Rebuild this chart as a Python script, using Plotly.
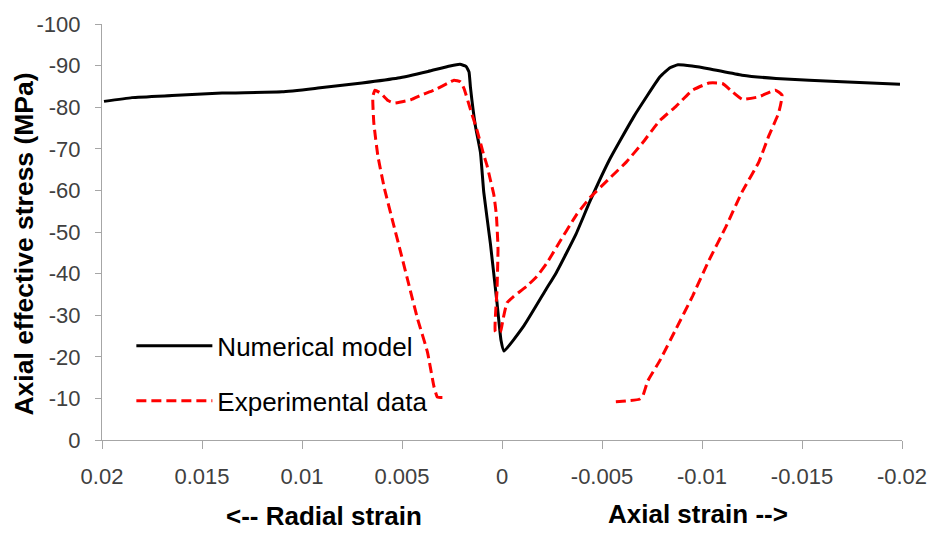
import plotly.graph_objects as go

# Numerical model: strain (radial side positive, axial side negative) vs axial effective stress
model_strain = [0.0199, 0.0185, 0.0165, 0.0140, 0.0110, 0.0092, 0.0070, 0.0052, 0.0037,
                0.0026, 0.0021, 0.0018, 0.00165, 0.00158, 0.00133, 0.00108, 0.00091,
                0.00058, 0.00025, 0.00005, -0.0001, -0.0011, -0.0022, -0.0027, -0.0037,
                -0.0044, -0.0054, -0.0066, -0.0079, -0.0084, -0.0088, -0.0095, -0.0104,
                -0.0120, -0.0137, -0.0170, -0.0199]
model_stress = [-81.4, -82.3, -82.8, -83.4, -83.7, -84.6, -85.8, -87.0, -88.6,
                -89.9, -90.3, -89.8, -88.5, -84.9, -75.5, -69.2, -59.5,
                -47.2, -33.0, -24.0, -21.4, -27.5, -36.2, -40.1, -49.5,
                -57.4, -67.6, -77.8, -87.3, -89.5, -90.2, -89.9, -89.2,
                -87.7, -86.9, -86.1, -85.5]

# Experimental data
exp_strain = [0.00298, 0.00323, 0.00340, 0.00373, 0.00422, 0.00464, 0.00505, 0.00547,
              0.00588, 0.00621, 0.00641, 0.00646, 0.00635, 0.00605, 0.00570, 0.00538,
              0.00456, 0.00400, 0.00340, 0.00257, 0.00240, 0.00207, 0.00190, 0.00158,
              0.00124, 0.00091, 0.00075, 0.00058, 0.00041, 0.00028, 0.00020, 0.00025,
              0.00033, 0.00008, -0.00005, -0.00025, -0.00058, -0.00124, -0.00174,
              -0.00224, -0.00273, -0.00373, -0.00439, -0.00538, -0.00621, -0.00704,
              -0.00787, -0.00870, -0.00953, -0.01035, -0.01102, -0.01152, -0.01201,
              -0.01284, -0.01367, -0.01400, -0.01383, -0.01334, -0.01284, -0.01201,
              -0.01118, -0.01035, -0.00953, -0.00870, -0.00787, -0.00729, -0.00704,
              -0.00687, -0.00621, -0.00563]
exp_stress = [-10.2, -10.3, -12.8, -21.2, -29.1, -37.0, -44.8, -52.7,
              -60.5, -68.4, -76.3, -82.5, -84.1, -83.3, -81.6, -81.0,
              -81.8, -83.0, -84.1, -86.1, -86.5, -86.1, -84.5, -79.5,
              -74.3, -68.5, -66.0, -62.5, -59.0, -54.0, -46.0, -36.0,
              -26.0, -26.0, -29.0, -33.0, -34.5, -37.0, -39.3,
              -42.5, -46.4, -54.2, -58.2, -62.9, -66.8, -71.5,
              -76.7, -80.2, -84.1, -85.8, -85.7, -83.7, -81.9,
              -82.5, -84.1, -82.9, -78.6, -73.1, -66.8, -59.7,
              -51.1, -43.2, -34.6, -26.7, -18.9, -14.2, -10.6,
              -9.8, -9.4, -9.2]

x_ticks = [0.02, 0.015, 0.01, 0.005, 0, -0.005, -0.01, -0.015, -0.02]
x_tick_text = ["0.02", "0.015", "0.01", "0.005", "0", "-0.005", "-0.01", "-0.015", "-0.02"]
y_ticks = [0, -10, -20, -30, -40, -50, -60, -70, -80, -90, -100]
y_tick_text = ["0", "-10", "-20", "-30", "-40", "-50", "-60", "-70", "-80", "-90", "-100"]

FONT = "Liberation Sans, Arial, sans-serif"

fig = go.Figure()
fig.add_trace(go.Scatter(
    x=model_strain, y=model_stress, mode="lines", name="Numerical model",
    legendgroup="a",
    line=dict(color="black", width=3, shape="spline", smoothing=0.4),
))
fig.add_trace(go.Scatter(
    x=exp_strain, y=exp_stress, mode="lines", name="Experimental data",
    legendgroup="b",
    line=dict(color="#ff0000", width=3, dash="10px,5px", shape="spline", smoothing=0.4),
))

axis_common = dict(
    showgrid=False, zeroline=False, showline=True, linecolor="#a6a6a6", linewidth=1.3,
    ticks="outside", tickcolor="#a6a6a6", tickwidth=1.3,
    tickfont=dict(family=FONT, size=22, color="#404040"),
)

fig.update_layout(
    width=939, height=534,
    margin=dict(l=102, r=32, t=16, b=94),
    paper_bgcolor="white", plot_bgcolor="white",
    xaxis=dict(range=[0.02, -0.02], tickvals=x_ticks, ticktext=x_tick_text,
               ticklen=8, ticklabelstandoff=8, **axis_common),
    yaxis=dict(range=[0, -100], tickvals=y_ticks, ticktext=y_tick_text,
               ticklen=6, ticklabelstandoff=10, **axis_common),
    showlegend=True,
    legend=dict(x=0.0367, y=0.16, xanchor="left", yanchor="middle",
                font=dict(family=FONT, size=26, color="black"),
                bgcolor="rgba(0,0,0,0)", itemwidth=76, tracegroupgap=18),
    annotations=[
        dict(text="<b>Axial effective stress (MPa)</b>", xref="paper", yref="paper",
             x=-0.0976, y=0.472, textangle=-90, showarrow=False,
             xanchor="center", yanchor="middle",
             font=dict(family=FONT, size=26.5, color="black")),
        dict(text="<b>&lt;-- Radial strain</b>", xref="paper", yref="paper",
             x=0.278, y=-0.182, showarrow=False, xanchor="center", yanchor="middle",
             font=dict(family=FONT, size=26, color="black")),
        dict(text="<b>Axial strain --&gt;</b>", xref="paper", yref="paper",
             x=0.745, y=-0.177, showarrow=False, xanchor="center", yanchor="middle",
             font=dict(family=FONT, size=26, color="black")),
    ],
)

fig.write_html("out.html")
